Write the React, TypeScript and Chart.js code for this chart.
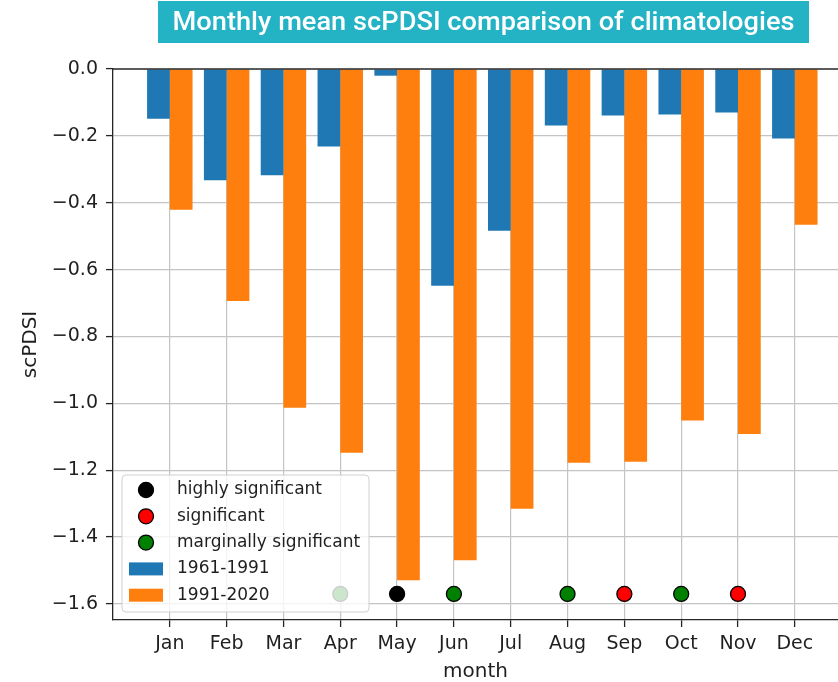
import React, { useEffect, useRef } from 'react';
import { Chart, registerables } from 'chart.js';

Chart.register(...registerables);

// ---------------- data ----------------
const months = ['Jan', 'Feb', 'Mar', 'Apr', 'May', 'Jun', 'Jul', 'Aug', 'Sep', 'Oct', 'Nov', 'Dec'];
const clim1961 = [-0.149, -0.333, -0.318, -0.232, -0.02, -0.648, -0.484, -0.169, -0.139, -0.136, -0.13, -0.208];
const clim1991 = [-0.421, -0.694, -1.013, -1.148, -1.529, -1.469, -1.315, -1.178, -1.175, -1.051, -1.092, -0.466];
const significance: (string | null)[] = [null, null, null, 'marginal', 'high', 'marginal', null, 'marginal', 'significant', 'marginal', 'significant', null];
const markerLevel = -1.57;
const yTicks = [0, -0.2, -0.4, -0.6, -0.8, -1.0, -1.2, -1.4, -1.6];
const seriesLabels = ['1961-1991', '1991-2020'];
const sigLevels = ['high', 'significant', 'marginal'];
const sigLabels: Record<string, string> = {
  high: 'highly significant',
  significant: 'significant',
  marginal: 'marginally significant',
};
const titleText = 'Monthly mean scPDSI comparison of climatologies';
const yMin = -1.648;
const yMax = 0;
const xMin = 0;
const xMax = 12.76;

// ---------------- styles ----------------
const FONT = 'DejaVu Sans';
const BLUE = '#1f77b4';
const ORANGE = '#ff7f0e';
const sigColors: Record<string, string> = { high: '#000000', significant: '#ff0000', marginal: '#008000' };
const GRID = '#c4c4c4';
const SPINE = '#262626';
const TEXT = '#1f1f1f';

const fmt = (v: number) => (Math.abs(v) < 1e-9 ? '0.0' : (v < 0 ? '\u2212' : '') + Math.abs(v).toFixed(1));

const overlayPlugin = {
  id: 'overlay',
  afterDatasetsDraw(chart: any) {
    const { ctx, chartArea } = chart;
    const { left, right, top, bottom } = chartArea;
    ctx.save();
    // top spine
    ctx.strokeStyle = SPINE;
    ctx.lineWidth = 1.3;
    ctx.beginPath();
    ctx.moveTo(left, top);
    ctx.lineTo(right, top);
    ctx.stroke();

    // legend
    const bx = left + 9;
    const bw = 247;
    const bh = 137;
    const by = bottom - 8 - bh;
    ctx.beginPath();
    if (ctx.roundRect) ctx.roundRect(bx, by, bw, bh, 4);
    else ctx.rect(bx, by, bw, bh);
    ctx.fillStyle = 'rgba(255,255,255,0.8)';
    ctx.fill();
    ctx.strokeStyle = '#d0d0d0';
    ctx.lineWidth = 1;
    ctx.stroke();

    const entries: { kind: string; color: string; label: string }[] = [
      ...sigLevels.map((l) => ({ kind: 'dot', color: sigColors[l], label: sigLabels[l] })),
      { kind: 'patch', color: BLUE, label: seriesLabels[0] },
      { kind: 'patch', color: ORANGE, label: seriesLabels[1] },
    ];
    ctx.font = `17px "${FONT}"`;
    ctx.textBaseline = 'middle';
    ctx.textAlign = 'left';
    entries.forEach((e, i) => {
      const cy = by + 15 + i * 26.3;
      if (e.kind === 'dot') {
        ctx.beginPath();
        ctx.arc(bx + 24, cy, 7.5, 0, Math.PI * 2);
        ctx.fillStyle = e.color;
        ctx.fill();
        ctx.strokeStyle = '#000';
        ctx.lineWidth = 1.3;
        ctx.stroke();
      } else {
        ctx.fillStyle = e.color;
        ctx.fillRect(bx + 7, cy - 6.5, 34, 13);
      }
      ctx.fillStyle = TEXT;
      ctx.fillText(e.label, bx + 55, cy);
    });
    ctx.restore();
  },
  afterDraw(chart: any) {
    const { ctx } = chart;
    ctx.save();
    ctx.fillStyle = '#24b3c5';
    ctx.fillRect(158, 1, 651, 42);
    ctx.font = `500 25px Roboto`;
    const w = ctx.measureText(titleText).width;
    const sx = 622 / w;
    ctx.translate(483.5, 30);
    ctx.scale(sx, 1);
    ctx.fillStyle = '#ffffff';
    ctx.textAlign = 'center';
    ctx.textBaseline = 'alphabetic';
    ctx.fillText(titleText, 0, 0);
    ctx.restore();
  },
};

export default function App() {
  const canvasRef = useRef<HTMLCanvasElement | null>(null);

  useEffect(() => {
    if (!canvasRef.current) return;
    Chart.defaults.font.family = FONT;

    const scatterSets = sigLevels.map((l) => ({
      type: 'scatter' as const,
      label: sigLabels[l],
      data: significance
        .map((s, i) => (s === l ? { x: i + 1, y: markerLevel } : null))
        .filter((p) => p !== null),
      backgroundColor: sigColors[l],
      borderColor: '#000000',
      borderWidth: 1.3,
      pointRadius: 7.5,
      pointHoverRadius: 7.5,
      order: 0,
    }));

    const chart = new Chart(canvasRef.current, {
      type: 'bar',
      data: {
        datasets: [
          ...scatterSets,
          {
            type: 'bar' as const,
            label: seriesLabels[0],
            data: clim1961.map((v, i) => ({ x: i + 1, y: v })),
            backgroundColor: BLUE,
            borderWidth: 0,
            categoryPercentage: 0.8,
            barPercentage: 1,
            order: 1,
          },
          {
            type: 'bar' as const,
            label: seriesLabels[1],
            data: clim1991.map((v, i) => ({ x: i + 1, y: v })),
            backgroundColor: ORANGE,
            borderWidth: 0,
            categoryPercentage: 0.8,
            barPercentage: 1,
            order: 1,
          },
        ] as any,
      },
      options: {
        animation: false,
        responsive: false,
        devicePixelRatio: 1,
        events: [],
        layout: { autoPadding: false, padding: { left: 15, top: 69, right: 0, bottom: 0 } },
        plugins: {
          legend: { display: false },
          tooltip: { enabled: false },
          title: { display: false },
        },
        scales: {
          x: {
            type: 'linear',
            min: xMin,
            max: xMax,
            offset: false,
            afterBuildTicks: (scale: any) => {
              scale.ticks = months.map((_, i) => ({ value: i + 1 }));
            },
            afterFit: (scale: any) => {
              scale.height = 62;
              scale.paddingRight = 0;
            },
            ticks: {
              callback: (v: any) => months[Math.round(v) - 1] ?? '',
              font: { family: FONT, size: 19 },
              color: TEXT,
              padding: 6,
              autoSkip: false,
              maxRotation: 0,
              minRotation: 0,
            },
            grid: {
              offset: false,
              color: GRID,
              lineWidth: 1.2,
              tickLength: 7,
              tickColor: SPINE,
              tickWidth: 1.3,
            },
            border: { color: SPINE, width: 1.3 },
            title: {
              display: true,
              text: 'month',
              font: { family: FONT, size: 20, lineHeight: 1 },
              color: TEXT,
              padding: { top: 0, bottom: 0 },
            },
          },
          y: {
            type: 'linear',
            min: yMin,
            max: yMax,
            afterBuildTicks: (scale: any) => {
              scale.ticks = yTicks.map((v) => ({ value: v }));
            },
            afterFit: (scale: any) => {
              scale.width = 98;
            },
            ticks: {
              callback: (v: any) => fmt(Number(v)),
              font: { family: FONT, size: 19 },
              color: TEXT,
              padding: 8,
            },
            grid: {
              color: (c: any) => (c.tick && Math.abs(c.tick.value) < 1e-9 ? 'rgba(0,0,0,0)' : GRID),
              lineWidth: 1.2,
              tickLength: 7,
              tickColor: SPINE,
              tickWidth: 1.3,
            },
            border: { color: SPINE, width: 1.3 },
            title: {
              display: true,
              text: 'scPDSI',
              font: { family: FONT, size: 20, lineHeight: 1.2 },
              color: TEXT,
              padding: { top: 4, bottom: 0 },
            },
          },
        },
      } as any,
      plugins: [overlayPlugin],
    });

    return () => chart.destroy();
  }, []);

  return (
    <div style={{ position: 'absolute', left: 0, top: 0, width: 838, height: 682, background: '#ffffff' }}>
      <canvas ref={canvasRef} width={838} height={682} style={{ display: 'block', width: 838, height: 682 }} />
    </div>
  );
}
